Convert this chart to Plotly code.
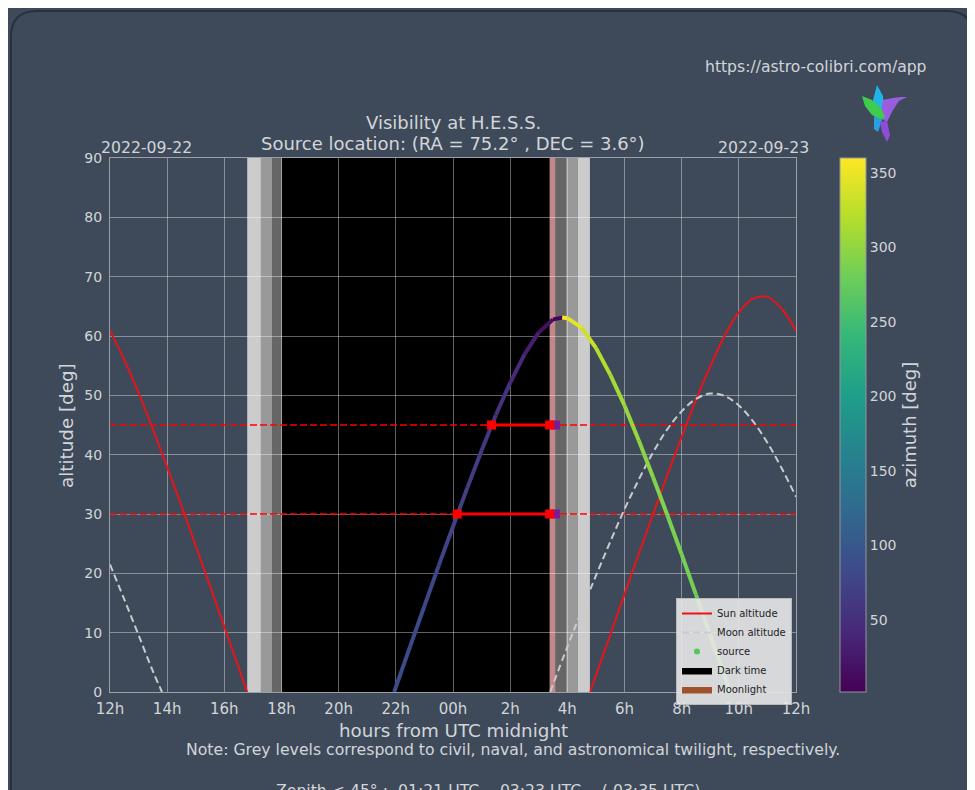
import plotly.graph_objects as go
from plotly.colors import sample_colorscale

# ---------------- data ----------------
sun_eve_h = [12.0, 12.5, 13.0, 13.5, 14.0, 14.5, 15.0, 15.5, 16.0, 16.5, 16.8]
sun_eve_alt = [60.9, 56.0, 50.4, 44.3, 37.9, 31.4, 24.6, 17.9, 11.0, 4.1, 0.0]
sun_morn_h = [28.8, 29.0, 29.5, 30.0, 30.5, 31.0, 31.5, 32.0, 32.5, 33.0, 33.5, 34.0, 34.5, 35.0, 35.5, 36.0]
sun_morn_alt = [0.0, 2.8, 9.6, 16.5, 23.3, 30.0, 36.6, 43.0, 49.2, 54.9, 60.0, 64.0, 66.3, 66.6, 64.6, 60.9]

moon_eve_h = [12.0, 12.5, 13.0, 13.5, 13.82]
moon_eve_alt = [21.5, 15.6, 9.6, 3.5, 0.0]
moon_morn_h = [27.40, 28.0, 28.5, 29.0, 29.5, 30.0, 30.5, 31.0, 31.5, 32.0, 32.5, 33.0, 33.5, 34.0, 34.5, 35.0, 35.5, 36.0]
moon_morn_alt = [0.0, 7.6, 13.7, 19.6, 25.3, 30.8, 35.8, 40.4, 44.3, 47.3, 49.4, 50.3, 49.9, 48.3, 45.6, 42.0, 37.7, 32.9]

src_rise_h = [21.94, 22.0, 22.5, 23.0, 23.5, 24.0, 24.5, 25.0, 25.5, 26.0, 26.5, 27.0, 27.5, 27.82]
src_rise_alt = [0.0, 0.8, 7.7, 14.5, 21.3, 27.9, 34.4, 40.7, 46.7, 52.1, 56.9, 60.6, 62.8, 63.1]
src_rise_az = [86.1, 85.7, 82.7, 79.5, 76.1, 72.2, 67.8, 62.6, 56.3, 48.4, 38.3, 25.7, 10.5, 1.7]
src_set_h = [27.82, 28.0, 28.5, 29.0, 29.5, 30.0, 30.5, 31.0, 31.5, 32.0, 32.5, 33.0, 33.5, 33.70]
src_set_alt = [63.1, 63.0, 61.4, 58.0, 53.5, 48.3, 42.4, 36.2, 29.8, 23.2, 16.4, 9.6, 2.8, 0.0]
src_set_az = [360.0, 354.0, 338.3, 324.9, 314.2, 305.8, 299.0, 293.6, 289.0, 285.0, 281.4, 278.2, 275.1, 273.9]

# sunset, civil end, nautical end, astronomical end
evening_twilight_h = [16.80, 17.28, 17.67, 18.02]
# astronomical start, nautical start, civil start, sunrise
morning_twilight_h = [27.583, 27.96, 28.37, 28.79]
dark_time_h = [18.02, 27.383]
moonlight_h = [27.383, 27.583]

zenith_levels = [45, 30]
window_start_h = [25.35, 24.15]
window_end_h = [27.383, 27.383]
window_moon_h = [27.583, 27.583]

x_tick_hours = [12, 14, 16, 18, 20, 22, 24, 26, 28, 30, 32, 34, 36]
x_tick_labels = ['12h', '14h', '16h', '18h', '20h', '22h', '00h', '2h', '4h', '6h', '8h', '10h', '12h']
y_ticks = [0, 10, 20, 30, 40, 50, 60, 70, 80, 90]
az_ticks = [50, 100, 150, 200, 250, 300, 350]
az_range = [1.7, 360.0]

# ---------------- layout helpers ----------------
OFF = 8                      # page body margin
W, H = 975 - OFF, 790 - OFF
PX0, PX1, PY0, PY1 = 110, 796, 158, 692   # plot area in page pixels
L, T = PX0 - OFF, PY0 - OFF
R, B = W - (PX1 - OFF), H - (PY1 - OFF)
PW, PH = PX1 - PX0, PY1 - PY0
BG = '#3e4a59'
TXT = '#d2d5da'
FONT = 'DejaVu Sans'


def px(x):
    return (x - PX0) / PW


def py(y):
    return (PY1 - y) / PH


def poly(points):
    return 'M ' + ' L '.join(f'{px(x):.5f},{py(y):.5f}' for x, y in points) + ' Z'


fig = go.Figure()

# ---- bands ----
shapes = []
tw_cols_eve = ['#cccccc', '#999999', '#666666']
for i in range(3):
    shapes.append(dict(type='rect', xref='x', yref='paper', x0=evening_twilight_h[i], x1=evening_twilight_h[i + 1],
                       y0=0, y1=1, fillcolor=tw_cols_eve[i], line_width=0, layer='below'))
tw_cols_morn = ['#666666', '#999999', '#cccccc']
for i in range(3):
    shapes.append(dict(type='rect', xref='x', yref='paper', x0=morning_twilight_h[i], x1=morning_twilight_h[i + 1],
                       y0=0, y1=1, fillcolor=tw_cols_morn[i], line_width=0, layer='below'))
shapes.append(dict(type='rect', xref='x', yref='paper', x0=dark_time_h[0], x1=dark_time_h[1], y0=0, y1=1,
                   fillcolor='black', line_width=0, layer='below'))
shapes.append(dict(type='rect', xref='x', yref='paper', x0=moonlight_h[0], x1=moonlight_h[1], y0=0, y1=1,
                   fillcolor='#c3898a', line_width=0, layer='below'))

# card border (decoration)
r = 26
cx0, cy0, cx1 = 11, 11, 973
card = (f'M {px(cx0):.5f},{py(900):.5f} L {px(cx0):.5f},{py(cy0 + r):.5f} '
        f'Q {px(cx0):.5f},{py(cy0):.5f} {px(cx0 + r):.5f},{py(cy0):.5f} '
        f'L {px(cx1 - r):.5f},{py(cy0):.5f} Q {px(cx1):.5f},{py(cy0):.5f} {px(cx1):.5f},{py(cy0 + r):.5f} '
        f'L {px(cx1):.5f},{py(900):.5f}')
shapes.append(dict(type='path', xref='paper', yref='paper', path=card, line=dict(color='#29313b', width=2),
                   layer='below'))

# logo (decoration)
shapes += [
    dict(type='path', xref='paper', yref='paper', path=poly([(877, 85), (883, 96), (884, 108), (876, 112), (872, 104)]),
         fillcolor='#22b4e8', line_width=0),
    dict(type='path', xref='paper', yref='paper', path=poly([(883, 100), (893, 98), (901, 97), (907, 97), (899, 101),
                                                                (893, 110), (887, 122), (880, 118)]),
         fillcolor='#9b5de0', line_width=0),
    dict(type='path', xref='paper', yref='paper', path=poly([(862, 96), (872, 100), (881, 108), (885, 117), (881, 120),
                                                                (872, 115), (865, 106)]),
         fillcolor='#3ecc4e', line_width=0),
    dict(type='path', xref='paper', yref='paper', path=poly([(874, 116), (882, 120), (878, 132), (874, 129)]),
         fillcolor='#2a9fe0', line_width=0),
    dict(type='path', xref='paper', yref='paper', path=poly([(880, 122), (887, 121), (890, 135), (887, 142), (882, 132)]),
         fillcolor='#8c4ed8', line_width=0),
]

# ---- zenith level dashed lines ----
for lvl in zenith_levels:
    fig.add_trace(go.Scatter(x=[x_tick_hours[0], x_tick_hours[-1]], y=[lvl, lvl], mode='lines',
                             line=dict(color='red', width=1.6, dash='7px,3px'), showlegend=False, hoverinfo='skip'))

# ---- sun ----
fig.add_trace(go.Scatter(x=sun_eve_h, y=sun_eve_alt, mode='lines', line=dict(color='#e8141a', width=2, shape='spline'),
                         name='Sun altitude', legendrank=1))
fig.add_trace(go.Scatter(x=sun_morn_h, y=sun_morn_alt, mode='lines', line=dict(color='#e8141a', width=2, shape='spline'),
                         showlegend=False))

# ---- moon ----
fig.add_trace(go.Scatter(x=moon_eve_h, y=moon_eve_alt, mode='lines',
                         line=dict(color='#c9cbce', width=2, dash='7px,4px', shape='spline'),
                         name='Moon altitude', legendrank=2))
fig.add_trace(go.Scatter(x=moon_morn_h, y=moon_morn_alt, mode='lines',
                         line=dict(color='#c9cbce', width=2, dash='7px,4px', shape='spline'), showlegend=False))


# ---- source, coloured by azimuth ----
def az_color(a):
    return sample_colorscale('Viridis', [(a - az_range[0]) / (az_range[1] - az_range[0])])[0]


for hh, aa, zz in [(src_rise_h, src_rise_alt, src_rise_az), (src_set_h, src_set_alt, src_set_az)]:
    for i in range(len(hh) - 1):
        fig.add_trace(go.Scatter(x=hh[i:i + 2], y=aa[i:i + 2], mode='lines',
                                 line=dict(color=az_color((zz[i] + zz[i + 1]) / 2), width=4),
                                 showlegend=False, hoverinfo='skip'))

# ---- visibility windows ----
for lvl, s, e, m in zip(zenith_levels, window_start_h, window_end_h, window_moon_h):
    fig.add_trace(go.Scatter(x=[m], y=[lvl], mode='markers', marker=dict(symbol='square', size=9, color='#7d1a9a'),
                             showlegend=False))
    fig.add_trace(go.Scatter(x=[s, e], y=[lvl, lvl], mode='lines+markers', line=dict(color='red', width=3),
                             marker=dict(symbol='square', size=9, color='red'), showlegend=False))

# ---- legend-only entries ----
fig.add_trace(go.Scatter(x=[None], y=[None], mode='markers', marker=dict(color='#4fc85c', size=6),
                         name='source', legendrank=3))
fig.add_trace(go.Scatter(x=[None], y=[None], mode='lines', fill='toself', fillcolor='black',
                         line=dict(color='black', width=1), name='Dark time', legendrank=4))
fig.add_trace(go.Scatter(x=[None], y=[None], mode='lines', fill='toself', fillcolor='#a0522d',
                         line=dict(color='#a0522d', width=1), name='Moonlight', legendrank=5))

# ---- colour bar ----
fig.add_trace(go.Scatter(x=[None, None], y=[None, None], mode='markers', showlegend=False,
                         marker=dict(color=az_range, colorscale='Viridis', cmin=az_range[0], cmax=az_range[1],
                                     showscale=True,
                                     colorbar=dict(x=px(840), xanchor='left', xpad=0, y=0.5, yanchor='middle',
                                                   len=PH, lenmode='pixels', ypad=0, thickness=26,
                                                   outlinecolor='#8f969e', outlinewidth=1,
                                                   tickvals=az_ticks, ticks='',
                                                   tickfont=dict(color=TXT, size=14, family=FONT),
                                                   title=dict(text='azimuth [deg]', side='right',
                                                              font=dict(color=TXT, size=18, family=FONT))))))


# ---- annotations ----
def label(text, x, y, size, xanchor='center', yanchor='middle', angle=0):
    return dict(text=text, x=px(x), y=py(y), xref='paper', yref='paper', xanchor=xanchor, yanchor=yanchor,
                textangle=angle, showarrow=False, font=dict(size=size, color=TXT, family=FONT))


NB = '\u00a0'
ann = [
    label('Visibility at H.E.S.S.', 453, 123, 18),
    label('Source location: (RA = 75.2° , DEC = 3.6°)', 453, 144, 18),
    label('2022-09-22', 99, 148, 15.7, xanchor='left'),
    label('2022-09-23', 811, 148, 15.7, xanchor='right'),
    label('altitude [deg]', 66, 426, 18.3, angle=-90),
    label('hours from UTC midnight', 453, 730, 18.3),
    label('Note: Grey levels correspond to civil, naval, and astronomical twilight, respectively.', 513, 749, 15.7),
    label(f'Zenith < 45° :{NB} 01:21 UTC -{NB} 03:23 UTC -{NB} ({NB}03:35 UTC)', 488, 779, 15.7, yanchor='top'),
    label('https://astro-colibri.com/app', 816, 67, 15.6),
]

fig.update_layout(
    width=W, height=H, margin=dict(l=L, r=R, t=T, b=B, autoexpand=False),
    paper_bgcolor=BG, plot_bgcolor=BG,
    font=dict(family=FONT, color=TXT),
    shapes=shapes, annotations=ann,
    legend=dict(x=px(676), y=py(598), xanchor='left', yanchor='top', bgcolor='rgba(232,232,232,0.9)',
                bordercolor='#bbbbbb', borderwidth=1, font=dict(size=10, color='#222222', family=FONT),
                itemwidth=30, tracegroupgap=0),
    xaxis=dict(range=[x_tick_hours[0], x_tick_hours[-1]], tickvals=x_tick_hours, ticktext=x_tick_labels,
               showgrid=True, gridcolor='rgba(255,255,255,0.38)', gridwidth=1, zeroline=False,
               showline=True, linecolor='#9aa0a8', linewidth=1, mirror=True, ticks='', ticklabelstandoff=3,
               tickfont=dict(size=15, color=TXT, family=FONT)),
    yaxis=dict(range=[0, 90], tickvals=y_ticks, showgrid=True, gridcolor='rgba(255,255,255,0.38)', gridwidth=1,
               zeroline=False, showline=True, linecolor='#9aa0a8', linewidth=1, mirror=True, ticks='',
               ticklabelstandoff=4, tickfont=dict(size=14, color=TXT, family=FONT)),
)

fig.write_html('out.html')
